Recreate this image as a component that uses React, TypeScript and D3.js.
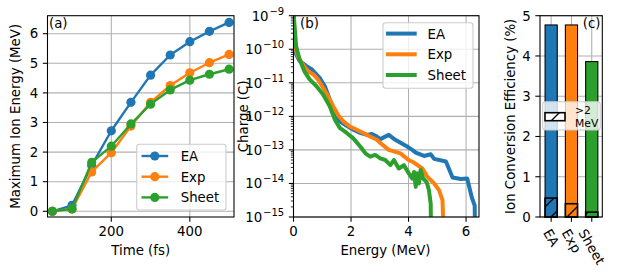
import React from "react";
import * as d3 from "d3";

// ---- data ----
const times = [50, 100, 150, 200, 250, 300, 350, 400, 450, 500];
const eaMax = [0, 0.2, 1.55, 2.72, 3.68, 4.6, 5.28, 5.73, 6.08, 6.38];
const expMax = [0, 0.08, 1.33, 1.98, 2.88, 3.68, 4.25, 4.68, 5.02, 5.3];
const sheetMax = [0, 0.08, 1.65, 2.2, 2.95, 3.62, 4.1, 4.43, 4.63, 4.8];

const eaEnergy = [0, 0.09, 0.21, 0.44, 0.62, 0.74, 0.91, 1.09, 1.26, 1.44, 1.61, 1.85, 2.08, 2.32, 2.55, 2.73, 2.9, 3.02, 3.31, 3.54, 3.95, 4.13, 4.25, 4.54, 4.77, 4.89, 5.3, 5.53, 5.82, 6.04, 6.2, 6.3, 6.32];
const eaCharge = [1.8e-10, 7.1e-11, 4.5e-11, 3.2e-11, 2.6e-11, 2.0e-11, 1.4e-11, 7.9e-12, 3.2e-12, 1.1e-12, 7.1e-13, 5.2e-13, 4.0e-13, 3.2e-13, 2.8e-13, 3.0e-13, 2.5e-13, 2.1e-13, 2.8e-13, 2.0e-13, 1.26e-13, 1.0e-13, 8.3e-14, 6.6e-14, 7.4e-14, 5.4e-14, 4.5e-14, 1.5e-14, 1.35e-14, 1.4e-14, 3.8e-15, 2.2e-15, 1e-16];
const expEnergy = [0, 0.15, 0.32, 0.5, 0.68, 0.85, 1.03, 1.2, 1.38, 1.55, 1.73, 1.96, 2.2, 2.43, 2.66, 2.9, 3.02, 3.31, 3.72, 4.0, 4.19, 4.36, 4.48, 4.65, 4.89, 5.06, 5.18, 5.24];
const expCharge = [1.6e-10, 6.3e-11, 3.5e-11, 2.2e-11, 1.8e-11, 1.26e-11, 7.1e-12, 4.0e-12, 2.0e-12, 1.1e-12, 7.1e-13, 5.0e-13, 4.0e-13, 3.2e-13, 2.5e-13, 2.0e-13, 1.6e-13, 1.0e-13, 7.9e-14, 5.0e-14, 4.2e-14, 3.3e-14, 2.8e-14, 1.6e-14, 1.0e-14, 6.3e-15, 3.2e-15, 1e-16];
const sheetEnergy = [0, 0.02, 0.09, 0.21, 0.38, 0.56, 0.8, 1.03, 1.26, 1.44, 1.61, 1.85, 2.08, 2.32, 2.5, 2.67, 2.84, 3.02, 3.19, 3.37, 3.49, 3.66, 3.84, 4.01, 4.13, 4.19, 4.25, 4.3, 4.36, 4.42, 4.51, 4.63, 4.71, 4.77, 4.79];
const sheetCharge = [3e-9, 7.9e-10, 1.26e-10, 5.0e-11, 2.2e-11, 1.26e-11, 7.9e-12, 4.5e-12, 2.0e-12, 7.9e-13, 4.5e-13, 3.2e-13, 2.2e-13, 1.26e-13, 7.9e-14, 6.3e-14, 7.1e-14, 5.6e-14, 5.0e-14, 3.5e-14, 5.0e-14, 2.8e-14, 3.5e-14, 2.0e-14, 1.4e-14, 2.2e-14, 7.9e-15, 2.0e-14, 1.0e-14, 2.5e-14, 1.4e-14, 1.1e-14, 6.3e-15, 2.5e-15, 1e-16];

const targets = ["EA", "Exp", "Sheet"];
const efficiency = [4.77, 4.77, 3.86];
const efficiencyAbove2 = [0.47, 0.33, 0.12];

const timeTicks = [200, 400];
const maxTicks = [0, 1, 2, 3, 4, 5, 6];
const energyTicks = [0, 2, 4, 6];
const chargeExps = [-15, -14, -13, -12, -11, -10, -9];
const effTicks = [0, 1, 2, 3, 4, 5];

const colors = ["#1f77b4", "#ff7f0e", "#2ca02c"];
const FONT = "DejaVu Sans";
const FS = 13.33;
const TICK = 4.67;
const GRID = "#b0b0b0";

const top = 15.7;
const bottom = 217;

function textWidth(s: string, size: number) {
  const ctx = document.createElement("canvas").getContext("2d");
  if (!ctx) return s.length * size * 0.6;
  ctx.font = `${size}px "${FONT}"`;
  return ctx.measureText(s).width;
}

function Frame({ x0, x1 }: { x0: number; x1: number }) {
  return (
    <rect x={x0} y={top} width={x1 - x0} height={bottom - top}
      fill="none" stroke="#000" strokeWidth={1.07} />
  );
}

function LegendBox({ x, y, w, h }: { x: number; y: number; w: number; h: number }) {
  return (
    <rect x={x} y={y} width={w} height={h} rx={2.7}
      fill="#fff" fillOpacity={0.8} stroke="#cccccc" strokeWidth={1.07} />
  );
}

export default function App() {
  // panel (a)
  const xA = d3.scaleLinear().domain([37.5, 512.5]).range([47.5, 234]);
  const yA = d3.scaleLinear().domain([-0.193, 6.608]).range([bottom, top]);
  const lineA = d3.line<number>().x((d, i) => xA(times[i])).y((d) => yA(d));
  const seriesA = [eaMax, expMax, sheetMax];

  // panel (b)
  const xB = d3.scaleLinear().domain([0, 6.45]).range([293.5, 479]);
  const yB = d3.scaleLog().domain([1e-15, 1e-9]).range([bottom, top]);
  const seriesB = [
    [eaEnergy, eaCharge],
    [expEnergy, expCharge],
    [sheetEnergy, sheetCharge],
  ];
  const minor: number[] = [];
  chargeExps.slice(0, -1).forEach((e) => {
    for (let m = 2; m <= 9; m++) minor.push(m * Math.pow(10, e));
  });

  // panel (c)
  const xC = d3.scaleLinear().domain([-0.55, 2.52]).range([540, 602.3]);
  const yC = d3.scaleLinear().domain([0, 5]).range([bottom, top]);
  const bw = xC(0.6) - xC(0);

  const tickLabelY = bottom + TICK + 4.67 + 9.8;

  return (
    <svg width={618} height={279} style={{ position: "absolute", left: 0, top: 0 }}
      fontFamily={FONT} fontSize={FS}>
      <defs>
        <clipPath id="clipA"><rect x={47.5} y={top} width={234 - 47.5} height={bottom - top} /></clipPath>
        <clipPath id="clipB"><rect x={293.5} y={top} width={479 - 293.5} height={bottom - top} /></clipPath>
        <pattern id="hatch" patternUnits="userSpaceOnUse" width={16} height={16}>
          <path d="M0,16 L16,0 M-4,4 L4,-4 M12,20 L20,12" stroke="#000" strokeWidth={1.33} />
        </pattern>
      </defs>

      {/* ---------- (a) ---------- */}
      <g>
        {timeTicks.map((t) => (
          <line key={"ga" + t} x1={xA(t)} x2={xA(t)} y1={top} y2={bottom} stroke={GRID} strokeWidth={1.07} />
        ))}
        {maxTicks.map((t) => (
          <line key={"gay" + t} x1={47.5} x2={234} y1={yA(t)} y2={yA(t)} stroke={GRID} strokeWidth={1.07} />
        ))}
        <g clipPath="url(#clipA)">
          {seriesA.map((s, k) => (
            <g key={"sa" + k}>
              <path d={lineA(s) || ""} fill="none" stroke={colors[k]} strokeWidth={2.4} strokeLinejoin="round" />
              {s.map((v, i) => (
                <circle key={i} cx={xA(times[i])} cy={yA(v)} r={4.6} fill={colors[k]} />
              ))}
            </g>
          ))}
        </g>
        <Frame x0={47.5} x1={234} />
        {timeTicks.map((t) => (
          <g key={"ta" + t}>
            <line x1={xA(t)} x2={xA(t)} y1={bottom} y2={bottom + TICK} stroke="#000" strokeWidth={1.07} />
            <text x={xA(t)} y={tickLabelY} textAnchor="middle">{t}</text>
          </g>
        ))}
        {maxTicks.map((t) => (
          <g key={"tay" + t}>
            <line x1={47.5 - TICK} x2={47.5} y1={yA(t)} y2={yA(t)} stroke="#000" strokeWidth={1.07} />
            <text x={47.5 - TICK - 4.67} y={yA(t) + 4.8} textAnchor="end">{t}</text>
          </g>
        ))}
        <text x={49} y={28} >(a)</text>
        <text x={140.7} y={254.5} textAnchor="middle">Time (fs)</text>
        <text transform={`translate(20,116.3) rotate(-90)`} textAnchor="middle">Maximum Ion Energy (MeV)</text>
        <LegendBox x={136.7} y={144.3} w={89.3} h={65.7} />
        {targets.map((name, k) => {
          const ly = 156 + k * 20.7;
          return (
            <g key={"la" + k}>
              <line x1={141.5} x2={168.2} y1={ly} y2={ly} stroke={colors[k]} strokeWidth={2.4} />
              <circle cx={154.8} cy={ly} r={4.6} fill={colors[k]} />
              <text x={180.7} y={ly + 4.9}>{name}</text>
            </g>
          );
        })}
      </g>

      {/* ---------- (b) ---------- */}
      <g>
        {energyTicks.map((t) => (
          <line key={"gb" + t} x1={xB(t)} x2={xB(t)} y1={top} y2={bottom} stroke={GRID} strokeWidth={1.07} />
        ))}
        {chargeExps.map((e) => (
          <line key={"gby" + e} x1={293.5} x2={479} y1={yB(Math.pow(10, e))} y2={yB(Math.pow(10, e))} stroke={GRID} strokeWidth={1.07} />
        ))}
        <g clipPath="url(#clipB)">
          {seriesB.map(([es, qs], k) => {
            const pts = es.map((e, i) => [xB(e), yB(qs[i])] as [number, number]);
            return (
              <path key={"sb" + k} d={d3.line()(pts) || ""} fill="none" stroke={colors[k]}
                strokeWidth={4} strokeLinejoin="round" strokeLinecap="square" />
            );
          })}
        </g>
        <Frame x0={293.5} x1={479} />
        {energyTicks.map((t) => (
          <g key={"tb" + t}>
            <line x1={xB(t)} x2={xB(t)} y1={bottom} y2={bottom + TICK} stroke="#000" strokeWidth={1.07} />
            <text x={xB(t)} y={tickLabelY} textAnchor="middle">{t}</text>
          </g>
        ))}
        {minor.map((m, i) => (
          <line key={"mb" + i} x1={293.5 - 2.67} x2={293.5} y1={yB(m)} y2={yB(m)} stroke="#000" strokeWidth={0.8} />
        ))}
        {chargeExps.map((e) => {
          const y = yB(Math.pow(10, e));
          const sup = "\u2212" + Math.abs(e);
          return (
            <g key={"tby" + e}>
              <line x1={293.5 - TICK} x2={293.5} y1={y} y2={y} stroke="#000" strokeWidth={1.07} />
              <text x={293.5 - TICK - 4.67} y={y + 4.8} textAnchor="end">
                10<tspan dx={0.8} dy={-5.8} fontSize={10}>{sup}</tspan>
              </text>
            </g>
          );
        })}
        <text x={300} y={28}>(b)</text>
        <text x={xB(3.2)} y={254.5} textAnchor="middle">Energy (MeV)</text>
        <text transform={`translate(248,116.3) rotate(-90)`} textAnchor="middle">Charge (C)</text>
        <LegendBox x={383} y={22.7} w={90} h={65.5} />
        {targets.map((name, k) => {
          const ly = 33.6 + k * 20.7;
          return (
            <g key={"lb" + k}>
              <line x1={388} x2={414.7} y1={ly} y2={ly} stroke={colors[k]} strokeWidth={4} strokeLinecap="square" />
              <text x={427.5} y={ly + 4.9}>{name}</text>
            </g>
          );
        })}
      </g>

      {/* ---------- (c) ---------- */}
      <g>
        {effTicks.map((t) => (
          <line key={"gc" + t} x1={540} x2={602.3} y1={yC(t)} y2={yC(t)} stroke={GRID} strokeWidth={1.07} />
        ))}
        {targets.map((name, i) => (
          <line key={"gcx" + i} x1={xC(i)} x2={xC(i)} y1={top} y2={bottom} stroke={GRID} strokeWidth={1.07} />
        ))}
        {efficiency.map((v, i) => (
          <rect key={"bc" + i} x={xC(i) - bw / 2} y={yC(v)} width={bw} height={yC(0) - yC(v)}
            fill={colors[i]} stroke="#000" strokeWidth={1.07} />
        ))}
        {efficiencyAbove2.map((v, i) => (
          <rect key={"hc" + i} x={xC(i) - bw / 2} y={yC(v)} width={bw} height={yC(0) - yC(v)}
            fill="url(#hatch)" stroke="#000" strokeWidth={1.6} />
        ))}
        <Frame x0={540} x1={602.3} />
        {effTicks.map((t) => (
          <g key={"tcy" + t}>
            <line x1={540 - TICK} x2={540} y1={yC(t)} y2={yC(t)} stroke="#000" strokeWidth={1.07} />
            <text x={540 - TICK - 4.67} y={yC(t) + 4.8} textAnchor="end">{t}</text>
          </g>
        ))}
        {targets.map((name, i) => {
          const w = textWidth(name, FS);
          const a = 0.928 * FS;
          const dsc = 0.236 * FS;
          const ox = xC(i) - (0.25 * w + 0.433 * (a - dsc));
          const oy = bottom + TICK + 4.67 + 0.5 * a;
          return (
            <g key={"tc" + i}>
              <line x1={xC(i)} x2={xC(i)} y1={bottom} y2={bottom + TICK} stroke="#000" strokeWidth={1.07} />
              <text transform={`translate(${ox},${oy}) rotate(60)`}>{name}</text>
            </g>
          );
        })}
        <text x={600.5} y={28} textAnchor="end">(c)</text>
        <text transform={`translate(514.7,116.3) rotate(-90)`} textAnchor="middle">Ion Conversion Efficiency (%)</text>
        <LegendBox x={542.7} y={101.7} w={57.5} h={28.3} />
        <rect x={545} y={112.7} width={20} height={8} fill="#fff" />
        <rect x={545} y={112.7} width={20} height={8} fill="url(#hatch)" stroke="#000" strokeWidth={1.6} />
        <text x={575} y={114} fontSize={10.8}>&gt;2</text>
        <text x={575} y={126.5} fontSize={10.8}>MeV</text>
      </g>
    </svg>
  );
}
